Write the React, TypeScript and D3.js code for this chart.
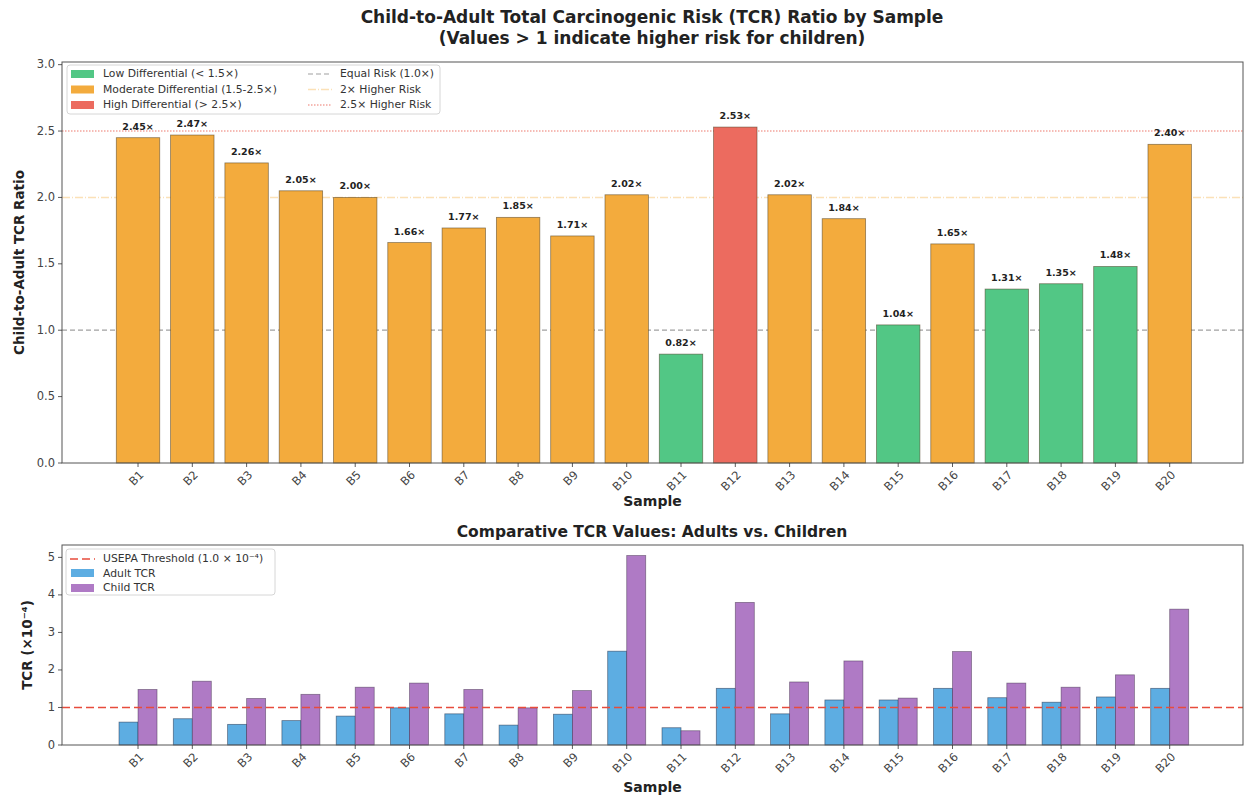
import React from "react";
import * as d3 from "d3";

const samples = ["B1","B2","B3","B4","B5","B6","B7","B8","B9","B10","B11","B12","B13","B14","B15","B16","B17","B18","B19","B20"];
const ratios = [2.45,2.47,2.26,2.05,2.00,1.66,1.77,1.85,1.71,2.02,0.82,2.53,2.02,1.84,1.04,1.65,1.31,1.35,1.48,2.40];
const adultTCR = [0.61,0.70,0.55,0.65,0.77,0.99,0.83,0.53,0.82,2.50,0.46,1.51,0.83,1.20,1.20,1.51,1.26,1.14,1.28,1.51];
const childTCR = [1.48,1.70,1.24,1.35,1.54,1.65,1.48,0.99,1.45,5.05,0.38,3.80,1.68,2.24,1.25,2.49,1.65,1.54,1.87,3.62];
const ratioTicks = [0,0.5,1.0,1.5,2.0,2.5,3.0];
const tcrTicks = [0,1,2,3,4,5];

const C = {
  low: "#52c785",
  mod: "#f3ab3d",
  high: "#ec6b5f",
  adult: "#5dade2",
  child: "#af7ac5",
};
const FONT = "DejaVu Sans, sans-serif";

function colorFor(r: number) {
  if (r < 1.5) return C.low;
  if (r > 2.5) return C.high;
  return C.mod;
}

export default function App() {
  const W = 1245, H = 796;
  const L = 62, R = 1243;
  const x = d3.scaleLinear().domain([-1.4, 20.35]).range([L, R]);
  const unit = x(1) - x(0);

  const T1 = 62, B1 = 463;
  const y1 = d3.scaleLinear().domain([0, 3.02]).range([B1, T1]);
  const T2 = 545, B2 = 745;
  const y2 = d3.scaleLinear().domain([0, 5.33]).range([B2, T2]);

  const tickColor = "#444";
  const TICK_FS = 11.5;
  const LEG_FS = 10.8;

  const xTicks = (bottom: number) =>
    samples.map((s, i) => (
      <g key={s}>
        <line x1={x(i)} x2={x(i)} y1={bottom} y2={bottom + 4} stroke="#333" strokeWidth={0.8} />
        <text
          transform={`translate(${x(i) + 4},${bottom + 10}) rotate(-45)`}
          textAnchor="end"
          dominantBaseline="middle"
          fontSize={TICK_FS}
          fill={tickColor}
          fontFamily={FONT}
        >
          {s}
        </text>
      </g>
    ));

  return (
    <svg width={W} height={H} style={{ display: "block", position: "absolute", left: 0, top: 0 }} fontFamily={FONT}>
      <rect width={W} height={H} fill="#fff" />
      <text x={652} y={23} textAnchor="middle" fontSize={17} fontWeight="bold" fill="#222">
        Child-to-Adult Total Carcinogenic Risk (TCR) Ratio by Sample
      </text>
      <text x={652} y={44} textAnchor="middle" fontSize={17} fontWeight="bold" fill="#222">
        (Values &gt; 1 indicate higher risk for children)
      </text>

      <line x1={L} x2={R} y1={y1(1)} y2={y1(1)} stroke="#808080" strokeOpacity={0.75} strokeWidth={1.2} strokeDasharray="5,3" />
      <line x1={L} x2={R} y1={y1(2)} y2={y1(2)} stroke="#f39c12" strokeOpacity={0.3} strokeWidth={1.4} strokeDasharray="8,2,1,2" />
      <line x1={L} x2={R} y1={y1(2.5)} y2={y1(2.5)} stroke="#e74c3c" strokeOpacity={0.5} strokeWidth={1.4} strokeDasharray="1.5,1.5" />

      {ratios.map((r, i) => (
        <g key={i}>
          <rect
            x={x(i) - 0.4 * unit}
            y={y1(r)}
            width={0.8 * unit}
            height={y1(0) - y1(r)}
            fill={colorFor(r)}
            stroke="#4a3a20"
            strokeOpacity={0.6}
            strokeWidth={0.8}
          />
          <text x={x(i)} y={y1(r) - 8} textAnchor="middle" fontSize={9.5} fontWeight="bold" fill="#222">
            {r.toFixed(2)}×
          </text>
        </g>
      ))}

      <rect x={L} y={T1} width={R - L} height={B1 - T1} fill="none" stroke="#555" strokeWidth={1} />
      {ratioTicks.map((t) => (
        <g key={t}>
          <line x1={L - 4} x2={L} y1={y1(t)} y2={y1(t)} stroke="#333" strokeWidth={0.8} />
          <text x={L - 7} y={y1(t)} textAnchor="end" dominantBaseline="middle" fontSize={TICK_FS} fill={tickColor}>
            {t.toFixed(1)}
          </text>
        </g>
      ))}
      {xTicks(B1)}
      <text x={(L + R) / 2} y={506} textAnchor="middle" fontSize={14} fontWeight="bold" fill="#222">
        Sample
      </text>
      <text transform={`translate(24,${(T1 + B1) / 2}) rotate(-90)`} textAnchor="middle" fontSize={13.5} fontWeight="bold" fill="#222">
        Child-to-Adult TCR Ratio
      </text>

      <g>
        <rect x={67} y={65} width={373} height={49} rx={3} fill="#fff" fillOpacity={0.85} stroke="#ccc" strokeWidth={0.8} />
        {[
          { c: C.low, t: "Low Differential (< 1.5×)" },
          { c: C.mod, t: "Moderate Differential (1.5-2.5×)" },
          { c: C.high, t: "High Differential (> 2.5×)" },
        ].map((e, k) => (
          <g key={k}>
            <rect x={71} y={70 + k * 15.5} width={23} height={8} fill={e.c} />
            <text x={103} y={74 + k * 15.5} dominantBaseline="middle" fontSize={LEG_FS} fill="#333">
              {e.t}
            </text>
          </g>
        ))}
        <line x1={308} x2={332} y1={74} y2={74} stroke="#808080" strokeOpacity={0.75} strokeWidth={1.2} strokeDasharray="5,3" />
        <text x={340} y={74} dominantBaseline="middle" fontSize={LEG_FS} fill="#333">Equal Risk (1.0×)</text>
        <line x1={308} x2={332} y1={89.5} y2={89.5} stroke="#f39c12" strokeOpacity={0.3} strokeWidth={1.4} strokeDasharray="8,2,1,2" />
        <text x={340} y={89.5} dominantBaseline="middle" fontSize={LEG_FS} fill="#333">2× Higher Risk</text>
        <line x1={308} x2={332} y1={105} y2={105} stroke="#e74c3c" strokeOpacity={0.5} strokeWidth={1.4} strokeDasharray="1.5,1.5" />
        <text x={340} y={105} dominantBaseline="middle" fontSize={LEG_FS} fill="#333">2.5× Higher Risk</text>
      </g>

      <text x={652} y={537} textAnchor="middle" fontSize={15.5} fontWeight="bold" fill="#222">
        Comparative TCR Values: Adults vs. Children
      </text>

      {samples.map((s, i) => (
        <g key={s}>
          <rect
            x={x(i) - 0.35 * unit}
            y={y2(adultTCR[i])}
            width={0.35 * unit}
            height={y2(0) - y2(adultTCR[i])}
            fill={C.adult}
            stroke="#1f2f4a"
            strokeOpacity={0.6}
            strokeWidth={0.8}
          />
          <rect
            x={x(i)}
            y={y2(childTCR[i])}
            width={0.35 * unit}
            height={y2(0) - y2(childTCR[i])}
            fill={C.child}
            stroke="#2f1f3a"
            strokeOpacity={0.5}
            strokeWidth={0.8}
          />
        </g>
      ))}
      <line x1={L} x2={R} y1={y2(1)} y2={y2(1)} stroke="#e74c3c" strokeWidth={1.7} strokeDasharray="8,4" />

      <rect x={L} y={T2} width={R - L} height={B2 - T2} fill="none" stroke="#555" strokeWidth={1} />
      {tcrTicks.map((t) => (
        <g key={t}>
          <line x1={L - 4} x2={L} y1={y2(t)} y2={y2(t)} stroke="#333" strokeWidth={0.8} />
          <text x={L - 7} y={y2(t)} textAnchor="end" dominantBaseline="middle" fontSize={TICK_FS} fill={tickColor}>
            {t}
          </text>
        </g>
      ))}
      {xTicks(B2)}
      <text x={(L + R) / 2} y={792} textAnchor="middle" fontSize={14} fontWeight="bold" fill="#222">
        Sample
      </text>
      <text transform={`translate(32,${(T2 + B2) / 2}) rotate(-90)`} textAnchor="middle" fontSize={13.5} fontWeight="bold" fill="#222">
        TCR (×10⁻⁴)
      </text>

      <g>
        <rect x={66} y={549} width={209} height={46} rx={3} fill="#fff" fillOpacity={0.85} stroke="#ccc" strokeWidth={0.8} />
        <line x1={70} x2={95} y1={559} y2={559} stroke="#e74c3c" strokeWidth={1.7} strokeDasharray="8,4" />
        <text x={103} y={559} dominantBaseline="middle" fontSize={LEG_FS} fill="#333">USEPA Threshold (1.0 × 10⁻⁴)</text>
        <rect x={71} y={569} width={23} height={8} fill={C.adult} />
        <text x={103} y={573.5} dominantBaseline="middle" fontSize={LEG_FS} fill="#333">Adult TCR</text>
        <rect x={71} y={584} width={23} height={8} fill={C.child} />
        <text x={103} y={588} dominantBaseline="middle" fontSize={LEG_FS} fill="#333">Child TCR</text>
      </g>
    </svg>
  );
}
